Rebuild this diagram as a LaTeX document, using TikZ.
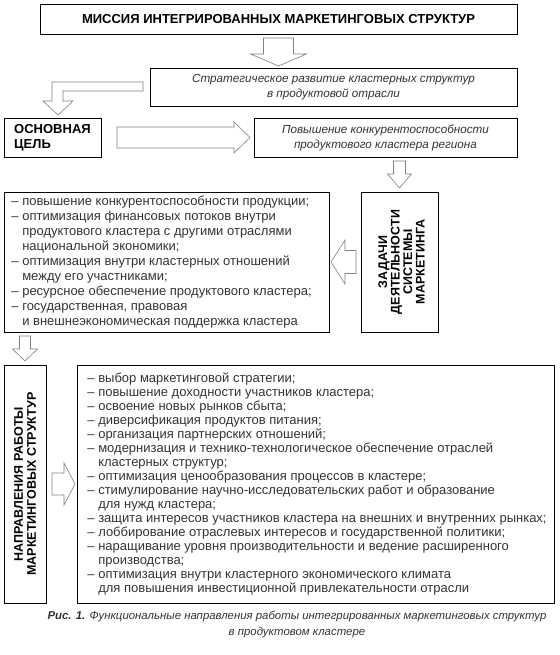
\documentclass[tikz,border=0pt]{standalone}
\usepackage{fontspec}
\setmainfont{Liberation Sans}
\usetikzlibrary{calc}
\newcommand{\ind}{\hphantom{–~}}

\begin{document}
\begin{tikzpicture}[x=1pt,y=-1pt,line width=0.9pt,
  box/.style={draw=black,inner sep=0pt,outer sep=0pt},
  blk/.style={draw=black!50,fill=white,line width=0.6pt},
  lst/.style={font=\fontsize{13}{14}\selectfont,align=left,text=black!80,inner sep=0pt},
  ttl/.style={font=\fontsize{13}{15}\selectfont\bfseries,align=center,inner sep=0pt},
  itl/.style={font=\fontsize{11.7}{15}\selectfont\itshape,align=center,text=black!80,inner sep=0pt}]

\useasboundingbox (0,0) rectangle (559,655);

\node[box,ttl,minimum width=477,minimum height=30] (mission) at (278.5,19) {МИССИЯ ИНТЕГРИРОВАННЫХ МАРКЕТИНГОВЫХ СТРУКТУР};
\node[box,itl,minimum width=367,minimum height=38] (strat) at (333.5,87) {Стратегическое развитие кластерных структур\\в продуктовой отрасли};
\node[box,ttl,align=left,minimum width=97,minimum height=39] (goal) at (52.5,137.5) {ОСНОВНАЯ\\ЦЕЛЬ};
\node[box,itl,minimum width=263,minimum height=39] (compet) at (385.5,137.5) {Повышение конкурентоспособности\\продуктового кластера региона};
\node[box,minimum width=77,minimum height=140] (tasks) at (399.5,262) {};
\node[ttl,font=\fontsize{12.5}{12.5}\selectfont\bfseries,rotate=90] (tasks-t) at ($(tasks)+(2,0)$) {ЗАДАЧИ\\ДЕЯТЕЛЬНОСТИ\\СИСТЕМЫ\\МАРКЕТИНГА};
\node[box,minimum width=325,minimum height=140] (tasklist) at (166.5,262) {};
\node[lst,font=\fontsize{13}{15}\selectfont,anchor=west] (tasklist-t) at ($(tasklist.west)+(7,0)$) {– повышение конкурентоспособности продукции;\\
– оптимизация финансовых потоков внутри\\
\ind продуктового кластера с другими отраслями\\
\ind национальной экономики;\\
– оптимизация внутри кластерных отношений\\
\ind между его участниками;\\
– ресурсное обеспечение продуктового кластера;\\
– государственная, правовая\\
\ind и внешнеэкономическая поддержка кластера};
\node[box,minimum width=42,minimum height=238] (dirs) at (25,484) {};
\node[ttl,font=\fontsize{12.5}{13}\selectfont\bfseries,rotate=90] (dirs-t) at (dirs) {НАПРАВЛЕНИЯ РАБОТЫ\\МАРКЕТИНГОВЫХ СТРУКТУР};
\node[box,minimum width=477,minimum height=238] (dirlist) at (315.5,484) {};
\node[lst,anchor=west] (dirlist-t) at ($(dirlist.west)+(10,0)$) {– выбор маркетинговой стратегии;\\
– повышение доходности участников кластера;\\
– освоение новых рынков сбыта;\\
– диверсификация продуктов питания;\\
– организация партнерских отношений;\\
– модернизация и технико-технологическое обеспечение отраслей\\
\ind кластерных структур;\\
– оптимизация ценообразования процессов в кластере;\\
– стимулирование научно-исследовательских работ и образование\\
\ind для нужд кластера;\\
– защита интересов участников кластера на внешних и внутренних рынках;\\
– лоббирование отраслевых интересов и государственной политики;\\
– наращивание уровня производительности и ведение расширенного\\
\ind производства;\\
– оптимизация внутри кластерного экономического климата\\
\ind для повышения инвестиционной привлекательности отрасли};
\node[itl,font=\fontsize{11.4}{16}\selectfont\itshape] (caption) at (297,624) {\textbf{Рис. 1.} Функциональные направления работы интегрированных маркетинговых структур\\в продуктовом кластере};

\draw[blk] ($(mission.south)+(-15,4)$) -- ++(30,0) -- ++(0,16) -- ++(13,0) -- ++(-28,12) -- ++(-28,-12) -- ++(13,0) -- cycle;
\draw[blk] ($(strat.west)+(-7,-5)$) -- ++(-91,0) -- ++(0,19) -- ++(-9,0) -- ++(15,14) -- ++(15,-14) -- ++(-10,0) -- ++(0,-10) -- ++(80,0) -- cycle;
\draw[blk] ($(goal.east)+(16,-10.5)$) -- ++(117,0) -- ++(0,-5) -- ++(16,15.5) -- ++(-16,15.5) -- ++(0,-5) -- ++(-117,0) -- cycle;
\draw[blk] ($(tasks.north)+(-6,-31)$) -- ++(12,0) -- ++(0,13) -- ++(6,0) -- ++(-12,14) -- ++(-12,-14) -- ++(6,0) -- cycle;
\draw[blk] ($(tasks.west)+(-5,-11.5)$) -- ++(-11,0) -- ++(0,-10.5) -- ++(-14,22) -- ++(14,22) -- ++(0,-10.5) -- ++(11,0) -- cycle;
\draw[blk] ($(dirs.north)+(-5.5,-29)$) -- ++(11,0) -- ++(0,13) -- ++(7,0) -- ++(-12.5,12) -- ++(-12.5,-12) -- ++(7,0) -- cycle;
\draw[blk] ($(dirs.east)+(6,-11)$) -- ++(12,0) -- ++(0,-10) -- ++(11,21) -- ++(-11,21) -- ++(0,-10) -- ++(-12,0) -- cycle;

\end{tikzpicture}
\end{document}
